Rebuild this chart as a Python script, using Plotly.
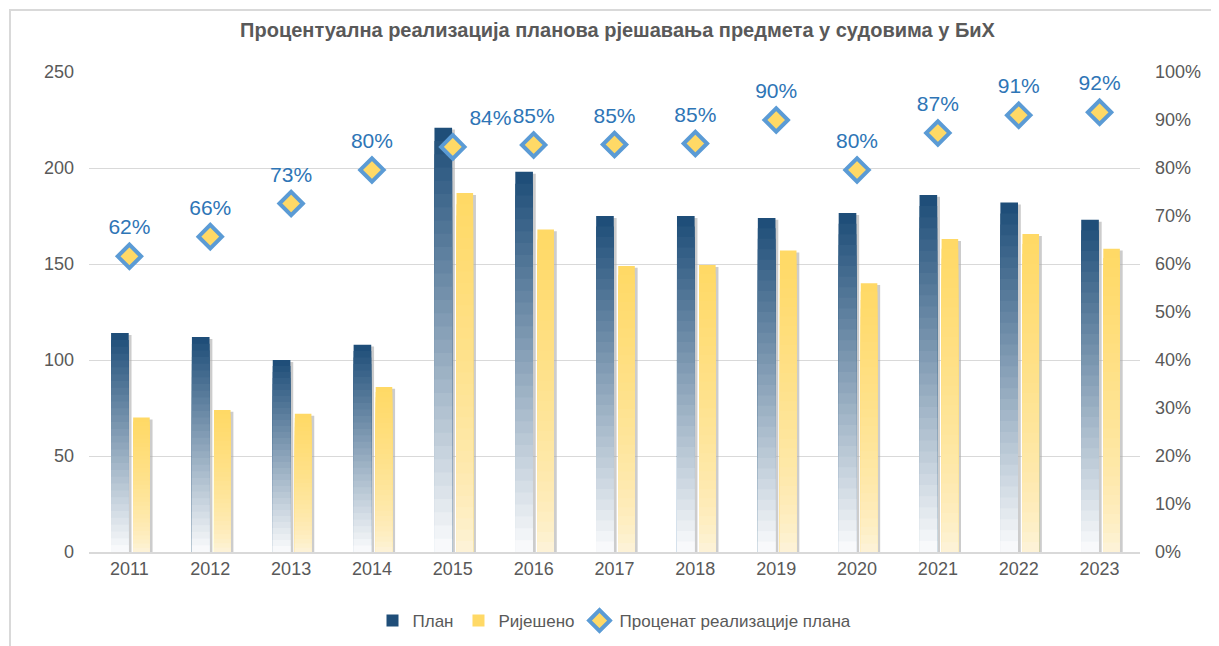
import plotly.graph_objects as go

years = ["2011", "2012", "2013", "2014", "2015", "2016", "2017", "2018", "2019", "2020", "2021", "2022", "2023"]
plan = [114, 112, 100, 108, 221, 198, 175, 175, 174, 176.5, 186, 182, 173]
solved = [70, 74, 72, 86, 187, 168, 149, 149.5, 157, 140, 163, 165.6, 158]
pct = [0.616, 0.657, 0.726, 0.796, 0.844, 0.848, 0.849, 0.851, 0.900, 0.796, 0.873, 0.910, 0.916]

NAME_PLAN = "План"
NAME_SOLVED = "Ријешено"
NAME_PCT = "Проценат реализације плана"
TITLE = "Процентуална реализација планова рјешавања предмета у судовима у БиХ"

FONT = "Liberation Sans, Arial, sans-serif"
GREY = "#595959"
N = 32
W, H = 1219, 646
OFS = 8  # page body margin


def hex2rgb(h):
    h = h.lstrip("#")
    return tuple(int(h[i:i + 2], 16) for i in (0, 2, 4))


def lerp(c0, c1, t):
    a, b = hex2rgb(c0), hex2rgb(c1)
    return "rgb(%d,%d,%d)" % tuple(round(a[i] + (b[i] - a[i]) * t) for i in range(3))


fig = go.Figure()

W_PLAN, OFF_PLAN = 0.218, -0.227
W_SOL, OFF_SOL = 0.205, 0.046
SH = 0.035

# shadows
for vals, w, off in [(plan, W_PLAN, OFF_PLAN), (solved, W_SOL, OFF_SOL)]:
    fig.add_trace(go.Bar(x=years, y=[v - 1 for v in vals], width=w, offset=off + SH,
                         marker=dict(color="rgba(170,170,170,0.6)", line=dict(width=0)),
                         showlegend=False, hoverinfo="skip"))

# gradient bars
for series, vals, w, off, top, bot, gamma in [
    (NAME_PLAN, plan, W_PLAN, OFF_PLAN, "#1F4E79", "#FFFFFF", 1.0),
    (NAME_SOLVED, solved, W_SOL, OFF_SOL, "#FFD966", "#FDF6E6", 0.6),
]:
    for k in range(N):
        f = 1 - k / N
        t = f ** gamma
        fig.add_trace(go.Bar(
            x=years, y=[v * f for v in vals], width=w, offset=off,
            marker=dict(color=lerp(bot, top, t), line=dict(width=0)),
            name=series, legendgroup=series, showlegend=(k == 0),
            hoverinfo="skip" if k else None,
        ))

positions = ["top center"] * len(years)
positions[4] = "top right"

# percentage markers
fig.add_trace(go.Scatter(
    x=years, y=pct, yaxis="y2", mode="markers", name=NAME_PCT,
    marker=dict(symbol="diamond", size=18, color="#FFD966", line=dict(color="#5B9BD5", width=4)),
))
# percentage labels (invisible larger marker for label spacing)
fig.add_trace(go.Scatter(
    x=years, y=pct, yaxis="y2", mode="markers+text", showlegend=False, hoverinfo="skip",
    marker=dict(size=25, opacity=0),
    text=[f"{round(p * 100)}%" for p in pct], textposition=positions,
    textfont=dict(family=FONT, size=21, color="#2E75B6"),
))

fig.update_layout(
    width=W, height=H,
    barmode="overlay",
    paper_bgcolor="white", plot_bgcolor="white",
    margin=dict(l=89 - OFS, r=W - 1140 + OFS, t=72 - OFS, b=H - 552 + OFS, autoexpand=False),
    font=dict(family=FONT, color=GREY, size=18),
    title=dict(text="<b>" + TITLE + "</b>", x=0.5, xanchor="center", y=1 - (30 - OFS) / H,
               yanchor="middle", yref="container", font=dict(family=FONT, size=20, color=GREY)),
    xaxis=dict(type="category", range=[-0.5, 12.5], showgrid=False, ticks="",
               showline=True, linecolor="#d9d9d9", linewidth=1.5,
               tickfont=dict(size=18, color=GREY)),
    yaxis=dict(range=[0, 250], dtick=50, showgrid=True, gridcolor="#d9d9d9", gridwidth=1,
               zeroline=False, ticks="", tickfont=dict(size=18, color=GREY), ticklabelstandoff=14),
    yaxis2=dict(range=[0, 1], dtick=0.1, tickformat=".0%", overlaying="y", side="right",
                showgrid=False, zeroline=False, ticks="", tickfont=dict(size=18, color=GREY),
                ticklabelstandoff=14),
    legend=dict(orientation="h", x=0.5, xanchor="center", yref="container", y=1 - (621 - OFS) / H,
                yanchor="middle", font=dict(size=17, color=GREY), traceorder="normal",
                itemwidth=30),
    shapes=[dict(type="rect", xref="paper", yref="paper",
                 x0=(10 - 89) / 1051, x1=(1217 - 89) / 1051, y0=(552 - 680) / 480, y1=(552 - 10) / 480,
                 line=dict(color="#d9d9d9", width=2), fillcolor="rgba(0,0,0,0)", layer="below")],
)

fig.write_html("out.html")
